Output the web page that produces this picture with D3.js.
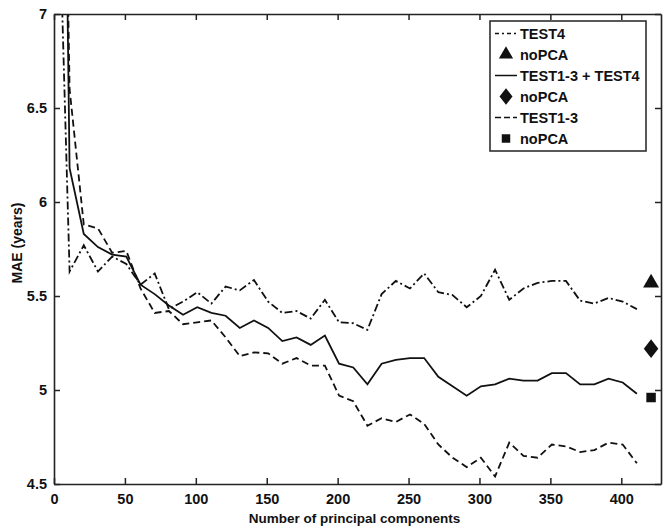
<!DOCTYPE html>
<html>
<head>
<meta charset="utf-8">
<script src="https://cdn.jsdelivr.net/npm/d3@7"></script>
<style>
  html, body { margin: 0; padding: 0; background: #fff; }
  svg { display: block; }
  text { font-family: "Liberation Sans", Arial, Helvetica, sans-serif; font-weight: bold; fill: #111; }
</style>
</head>
<body>
<svg id="chart" width="663" height="530"></svg>
<script>
const components = [1, 11, 21, 31, 41, 51, 61, 71, 81, 91, 101, 111, 121, 131, 141, 151, 161, 171, 181, 191, 201,
  211, 221, 231, 241, 251, 261, 271, 281, 291, 301, 311, 321, 331, 341, 351, 361, 371, 381, 391, 401, 411];

const test4 = [8.3, 5.63, 5.77, 5.63, 5.71, 5.67, 5.56, 5.62, 5.43, 5.47, 5.52, 5.46, 5.55, 5.53, 5.585, 5.47, 5.41,
  5.42, 5.38, 5.48, 5.36, 5.355, 5.32, 5.51, 5.58, 5.54, 5.62, 5.52, 5.505, 5.44, 5.50, 5.64, 5.48, 5.54, 5.57, 5.58,
  5.58, 5.475, 5.46, 5.49, 5.47, 5.43];

const test13plus4 = [12, 6.18, 5.83, 5.76, 5.72, 5.71, 5.56, 5.51, 5.45, 5.40, 5.44, 5.41, 5.395, 5.33, 5.37, 5.33,
  5.26, 5.28, 5.24, 5.29, 5.14, 5.12, 5.03, 5.14, 5.16, 5.17, 5.17, 5.07, 5.02, 4.97, 5.02, 5.03, 5.06, 5.05, 5.05,
  5.09, 5.09, 5.03, 5.03, 5.06, 5.04, 4.98];

const test13 = [11, 6.6, 5.88, 5.86, 5.73, 5.74, 5.54, 5.41, 5.42, 5.35, 5.36, 5.37, 5.28, 5.18, 5.20, 5.195, 5.14,
  5.17, 5.13, 5.13, 4.97, 4.94, 4.81, 4.85, 4.83, 4.87, 4.82, 4.71, 4.64, 4.59, 4.64, 4.54, 4.72, 4.65, 4.64, 4.71,
  4.70, 4.67, 4.68, 4.72, 4.71, 4.61];

const noPCAx = 421;
const noPCA = [5.57, 5.22, 4.96]; // TEST4, TEST1-3 + TEST4, TEST1-3

const xTicks = [0, 50, 100, 150, 200, 250, 300, 350, 400];
const yTicks = [4.5, 5, 5.5, 6, 6.5, 7];
const legendLabels = ["TEST4", "noPCA", "TEST1-3 + TEST4", "noPCA", "TEST1-3", "noPCA"];

const svg = d3.select("#chart");
const L = 54, R = 661, T = 14, B = 484;
const x = d3.scaleLinear().domain([0, 428]).range([L, R]);
const y = d3.scaleLinear().domain([4.5, 7]).range([B, T]);

const dashStyles = { dashdot: "8,3,2,3", solid: null, dashed: "7,4" };

svg.append("defs").append("clipPath").attr("id", "clip")
  .append("rect").attr("x", L).attr("y", T).attr("width", R - L).attr("height", B - T);

const series = [
  { vals: test4, dash: dashStyles.dashdot, sym: d3.symbolTriangle, mv: noPCA[0], size: 110, sx: 1 },
  { vals: test13plus4, dash: dashStyles.solid, sym: d3.symbolDiamond, mv: noPCA[1], size: 100, sx: 1.35 },
  { vals: test13, dash: dashStyles.dashed, sym: d3.symbolSquare, mv: noPCA[2], size: 90, sx: 1 }
];

const line = d3.line().x(d => x(d[0])).y(d => y(d[1]));
const gLines = svg.append("g").attr("clip-path", "url(#clip)");
series.forEach(s => {
  gLines.append("path")
    .datum(components.map((c, i) => [c, s.vals[i]]))
    .attr("d", line)
    .attr("fill", "none")
    .attr("stroke", "#111")
    .attr("stroke-width", 1.8)
    .attr("stroke-dasharray", s.dash);
});

// noPCA markers
series.forEach(s => {
  svg.append("path")
    .attr("d", d3.symbol().type(s.sym).size(s.size)())
    .attr("transform", `translate(${x(noPCAx)},${y(s.mv)}) scale(${s.sx},1)`)
    .attr("fill", "#111");
});

// axes (box with inward ticks)
const axisStroke = 1.6;
const tickLen = 6;
const gAxBottom = svg.append("g").attr("transform", `translate(0,${B})`)
  .call(d3.axisBottom(x).tickValues(xTicks).tickSizeInner(-tickLen).tickSizeOuter(0).tickPadding(10).tickFormat(d3.format("d")));
const gAxTop = svg.append("g").attr("transform", `translate(0,${T})`)
  .call(d3.axisTop(x).tickValues(xTicks).tickSizeInner(-tickLen).tickSizeOuter(0).tickFormat(""));
const gAxLeft = svg.append("g").attr("transform", `translate(${L},0)`)
  .call(d3.axisLeft(y).tickValues(yTicks).tickSizeInner(-tickLen).tickSizeOuter(0).tickPadding(10).tickFormat(d => d));
const gAxRight = svg.append("g").attr("transform", `translate(${R},0)`)
  .call(d3.axisRight(y).tickValues(yTicks).tickSizeInner(-tickLen).tickSizeOuter(0).tickFormat(""));

[gAxBottom, gAxTop, gAxLeft, gAxRight].forEach(g => {
  g.selectAll(".domain").attr("stroke", "#222").attr("stroke-width", axisStroke);
  g.selectAll(".tick line").attr("stroke", "#222").attr("stroke-width", 1.5);
  g.selectAll(".tick text").style("font-size", "14.5px").style("font-weight", "bold")
    .style("font-family", '"Liberation Sans", Arial, sans-serif').attr("fill", "#111");
});
gAxLeft.selectAll(".tick text").attr("dx", "3");

// axis titles
svg.append("text").attr("x", (L + R) / 2 - 3).attr("y", 523).attr("text-anchor", "middle")
  .style("font-size", "13.5px").text("Number of principal components");
svg.append("text").attr("transform", `translate(22,${(T + B) / 2 - 6}) rotate(-90)`).attr("text-anchor", "middle")
  .style("font-size", "14px").text("MAE (years)");

// legend
const lg = svg.append("g");
lg.append("rect").attr("x", 490).attr("y", 21).attr("width", 156).attr("height", 130)
  .attr("fill", "#fff").attr("stroke", "#222").attr("stroke-width", 1.5);
const rowY = i => 33.5 + i * 21;
legendLabels.forEach((lab, i) => {
  const yy = rowY(i);
  const s = series[Math.floor(i / 2)];
  if (i % 2 === 0) {
    lg.append("line").attr("x1", 495).attr("x2", 517).attr("y1", yy).attr("y2", yy)
      .attr("stroke", "#111").attr("stroke-width", 1.5)
      .attr("stroke-dasharray", i === 0 ? "4,3,2,3" : (i === 4 ? "6,3" : null));
  } else {
    lg.append("path").attr("d", d3.symbol().type(s.sym).size(s.size * 0.8)())
      .attr("transform", `translate(506,${yy}) scale(${s.sx},1)`)
      .attr("fill", "#111");
  }
  lg.append("text").attr("x", 520).attr("y", yy + 5).style("font-size", "14.5px").text(lab);
});
</script>
</body>
</html>
